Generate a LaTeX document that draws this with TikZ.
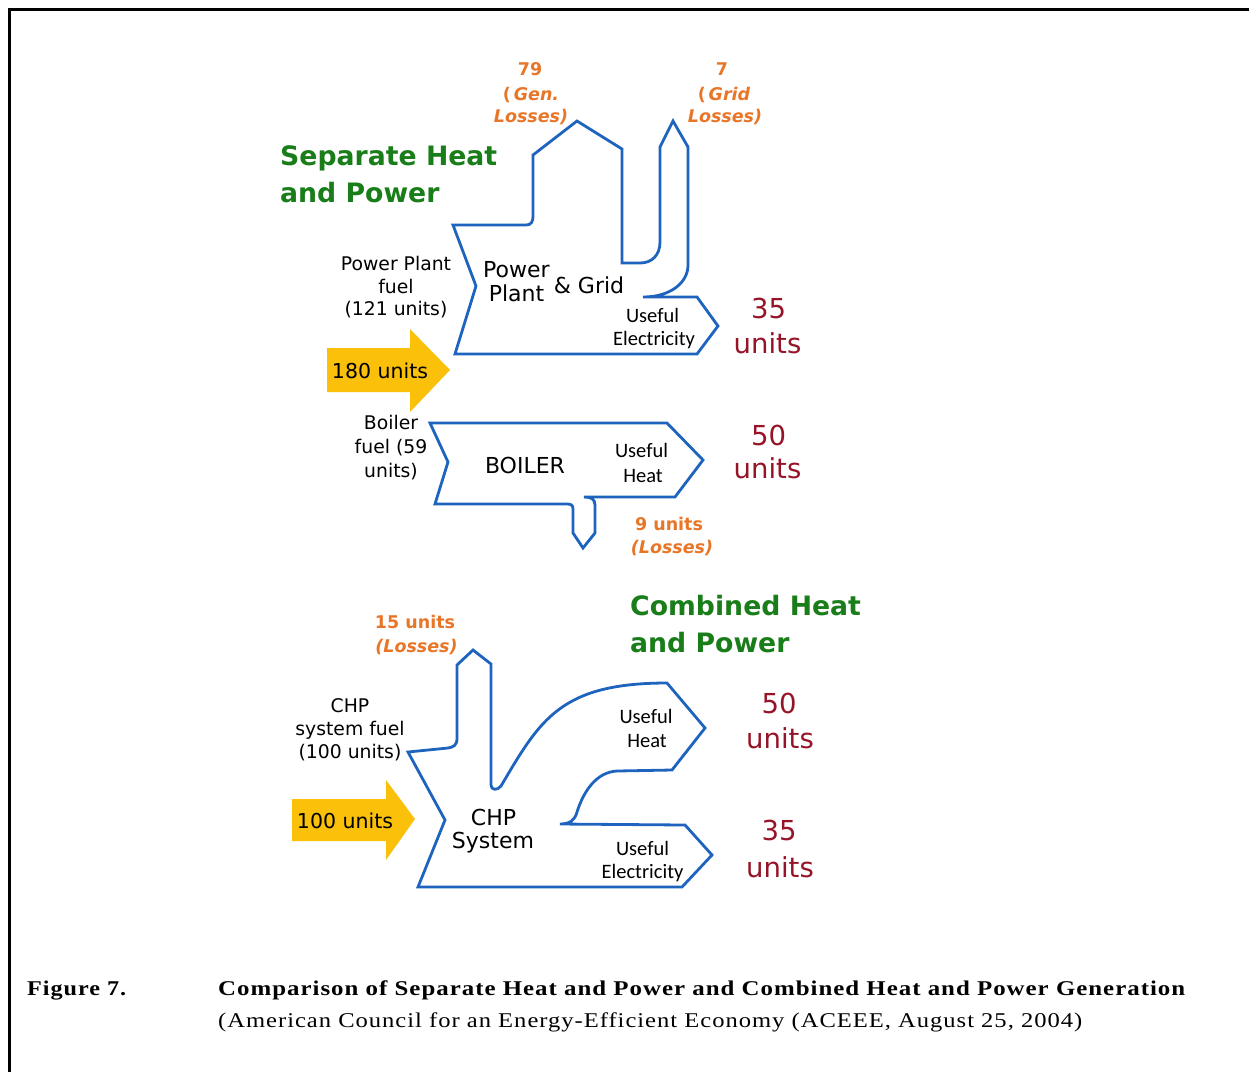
\documentclass[tikz,border=0pt]{standalone}
\usepackage{fontspec}
\usepackage{graphicx}
\setmainfont{Liberation Serif}
\newfontfamily\vfont{DejaVu Sans}
\newfontfamily\cfont{Carlito}
\newfontfamily\capfont[LetterSpace=4]{Liberation Serif}
\definecolor{flowblue}{RGB}{30,100,190}
\definecolor{arrowyellow}{RGB}{250,192,10}
\definecolor{hdrgreen}{RGB}{25,125,25}
\definecolor{lossorange}{RGB}{232,118,40}
\definecolor{resultred}{RGB}{150,20,40}
\tikzset{
  flow/.style={draw=flowblue, line width=2.8pt, line join=miter},
  fuelarrow/.style={fill=arrowyellow, draw=none},
  lbl/.style={inner sep=0pt, anchor=base},
  hdr/.style={lbl, anchor=base west, font=\vfont\bfseries\fontsize{26.7}{30}\selectfont, text=hdrgreen},
  loss/.style={lbl, font=\vfont\bfseries\fontsize{17.5}{20}\selectfont, text=lossorange},
  lossit/.style={lbl, font=\vfont\bfseries\itshape\fontsize{17.5}{20}\selectfont, text=lossorange},
  fuel/.style={lbl, font=\vfont\fontsize{18.8}{22}\selectfont},
  arrowtxt/.style={lbl, font=\vfont\fontsize{20.5}{22}\selectfont},
  inner/.style={lbl, font=\vfont\fontsize{22}{24}\selectfont},
  useful/.style={lbl, font=\cfont\fontsize{20.5}{22}\selectfont},
  result/.style={lbl, font=\vfont\fontsize{27.5}{30}\selectfont, text=resultred},
  caption/.style={lbl, anchor=base west}
}
\begin{document}
\begin{tikzpicture}[x=1pt,y=-1pt]
\useasboundingbox (0,0) rectangle (1249,1072);
% frame
\draw[line width=3pt] (9,1072) -- (9,9) -- (1249,9);

% ---------- Separate heat and power ----------
\node[hdr] (sephdr1) at (280,165) {Separate Heat};
\node[hdr] (sephdr2) at (280,202) {and Power};

% yellow input arrow 180 units
\fill[fuelarrow] (327,348) -- (410,348) -- (410,329) -- (450,370) -- (410,412) -- (410,392) -- (327,392) -- cycle;
\node[arrowtxt] (in180) at (380,378) {180 units};

% power plant & grid outline
\draw[flow] (453,225) -- (526,225) .. controls (531,225) and (533,222) .. (533,216)
  -- (533,155) -- (577,121) -- (622,149) -- (622,263) -- (640,263)
  .. controls (652,263) and (660,255) .. (660,242) -- (660,147) -- (673,121) -- (688,147)
  -- (688,265) .. controls (688,283) and (670,297) .. (643,297)
  -- (697,297) -- (718,326) -- (697,354) -- (455,354) -- (476,286) -- cycle;

\node[loss]   (gl1) at (530,75) {79};
\node[lossit] (gl2) at (531,100) {\upshape(\,\itshape Gen.};
\node[lossit] (gl3) at (531,122) {Losses)};
\node[loss]   (rl1) at (722,75) {7};
\node[lossit] (rl2) at (724,100) {\upshape(\,\itshape Grid};
\node[lossit] (rl3) at (725,122) {Losses)};

\node[fuel] (ppf1) at (396,270) {Power Plant};
\node[fuel] (ppf2) at (396,293) {fuel};
\node[fuel] (ppf3) at (396,315) {(121 units)};

\node[inner] (pp1) at (516.5,277) {Power};
\node[inner] (pp2) at (516.5,301) {Plant};
\node[inner] (grid) at (589,293) {\& Grid};
\node[useful] (ue1) at (652.5,322) {Useful};
\node[useful] (ue2) at (654,345) {Electricity};
\node[result] (r35a) at (768.5,318) {35};
\node[result] (r35b) at (767.5,353) {units};

% boiler
\draw[flow] (430,423) -- (667,423) -- (703,460) -- (675,497) -- (584,497)
  .. controls (591,497) and (595,499) .. (595,505) -- (595,533) -- (583,548) -- (573,533)
  -- (573,509) .. controls (573,505) and (571,504) .. (567,504) -- (435,504) -- (448,462) -- cycle;

\node[fuel] (bf1) at (391,429) {Boiler};
\node[fuel] (bf2) at (391,453) {fuel (59};
\node[fuel] (bf3) at (391,477) {units)};
\node[inner] (boiler) at (525,473) {BOILER};
\node[useful] (uh1) at (641.5,457) {Useful};
\node[useful] (uh2) at (643,482) {Heat};
\node[result] (r50a) at (768.5,445) {50};
\node[result] (r50b) at (767.5,478) {units};
\node[loss]   (bl1) at (669,530) {9 units};
\node[lossit] (bl2) at (672,553) {(Losses)};

% ---------- Combined heat and power ----------
\node[hdr] (chphdr1) at (630,615) {Combined Heat};
\node[hdr] (chphdr2) at (630,652) {and Power};

\fill[fuelarrow] (292,799) -- (386,799) -- (386,780) -- (415,819) -- (386,860) -- (386,841) -- (292,841) -- cycle;
\node[arrowtxt] (in100) at (345,828) {100 units};

\draw[flow] (408,752) -- (448,748) .. controls (454,747) and (457,745) .. (457,738)
  -- (457,665) -- (473,650) -- (491,664) -- (491,785)
  .. controls (491,790) and (497,791) .. (501,786)
  .. controls (540,720) and (560,683) .. (667,683)
  -- (705,728) -- (672,770) -- (617,771)
  .. controls (597,772) and (584,790) .. (577,812)
  .. controls (575,820) and (570,824) .. (560,824)
  -- (685,825) -- (712,855) -- (682,887) -- (418,887) -- (445,820) -- cycle;

\node[loss]   (cl1) at (415,628) {15 units};
\node[lossit] (cl2) at (416.5,652) {(Losses)};
\node[fuel] (cf1) at (350,712) {CHP};
\node[fuel] (cf2) at (350,735) {system fuel};
\node[fuel] (cf3) at (350,758) {(100 units)};
\node[inner] (chp1) at (493.5,825) {CHP};
\node[inner] (chp2) at (493,848) {System};
\node[useful] (cuh1) at (646,723) {Useful};
\node[useful] (cuh2) at (647,747) {Heat};
\node[useful] (cue1) at (642.5,855) {Useful};
\node[useful] (cue2) at (642.5,878) {Electricity};
\node[result] (c50a) at (779,713) {50};
\node[result] (c50b) at (780,748) {units};
\node[result] (c35a) at (779,840) {35};
\node[result] (c35b) at (780,877) {units};

% ---------- caption ----------
\node[caption] (fig) at (27,995) {\resizebox{99pt}{\height}{\capfont\bfseries\fontsize{21}{24}\selectfont Figure 7.}};
\node[caption] (cap1) at (218,995) {\resizebox{967pt}{\height}{\capfont\bfseries\fontsize{21}{24}\selectfont Comparison of Separate Heat and Power and Combined Heat and Power Generation}};
\node[caption] (cap2) at (218,1027) {\resizebox{864pt}{\height}{\capfont\fontsize{21}{24}\selectfont (American Council for an Energy-Efficient Economy (ACEEE, August 25, 2004)}};
\end{tikzpicture}
\end{document}
